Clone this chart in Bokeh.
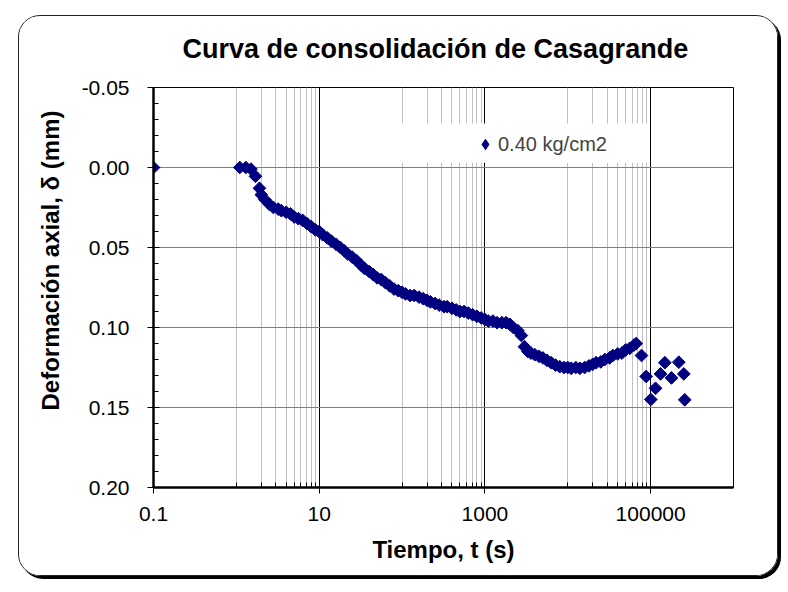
from bokeh.plotting import figure
from bokeh.models import (Range1d, FixedTicker, NumeralTickFormatter, CustomJSTickFormatter,
                          Legend, LegendItem, BoxAnnotation, ColumnDataSource, Title)
from bokeh.embed import file_html
from bokeh.resources import INLINE

# ---------------- data ----------------
title_text = "Curva de consolidación de Casagrande"
x_label = "Tiempo, t (s)"
y_label = "Deformación axial, δ (mm)"
series_name = "0.40 kg/cm2"

time_s = [0.1, 1.1, 1.3, 1.5, 1.7, 1.9, 2.0, 2.2, 2.5, 2.8, 3.2, 3.5, 4.0, 4.5, 5.0, 5.6, 6.3, 7.1, 8.0, 9.0,
          10, 11, 12.5, 14, 16, 18, 20, 22, 25, 28, 32, 35, 40, 45, 50, 56, 63, 71, 80, 90,
          100, 110, 125, 140, 160, 180, 200, 220, 250, 280, 320, 350, 400, 450, 500, 560, 630, 710, 800, 900,
          1000, 1100, 1250, 1400, 1600, 1800, 2000, 2200, 2500, 2750, 3000, 3300, 3600, 4000, 4500, 5000,
          5600, 6300, 7100, 8000, 9000,
          10000, 11000, 12500, 14000, 16000, 18000, 20000, 22000, 25000, 28000, 32000, 35000, 40000, 45000,
          50000, 56000, 63000, 67000,
          77600, 88300, 100500, 114600, 131600, 148300, 178500, 218800, 251400, 258000]

deformation_mm = [0.000, 0.000, 0.000, 0.001, 0.0055, 0.013, 0.017, 0.020, 0.023, 0.025, 0.026, 0.027, 0.028,
                  0.029, 0.031, 0.032, 0.033, 0.035, 0.037, 0.039,
                  0.040, 0.042, 0.044, 0.046, 0.048, 0.050, 0.052, 0.054, 0.056, 0.058, 0.061, 0.063, 0.065,
                  0.067, 0.069, 0.070, 0.072, 0.074, 0.076, 0.077,
                  0.078, 0.079, 0.080, 0.080, 0.081, 0.082, 0.083, 0.084, 0.085, 0.086, 0.087, 0.087, 0.088,
                  0.089, 0.090, 0.090, 0.091, 0.092, 0.093, 0.094,
                  0.095, 0.096, 0.096, 0.097, 0.097, 0.097, 0.098, 0.100, 0.102, 0.105, 0.112, 0.115, 0.116,
                  0.117, 0.118, 0.119, 0.1205, 0.122, 0.1235, 0.1245, 0.125,
                  0.125, 0.1255, 0.125, 0.1255, 0.125, 0.124, 0.123, 0.122, 0.1215, 0.120, 0.119, 0.1175,
                  0.1165, 0.116, 0.114, 0.113, 0.111, 0.110,
                  0.1175, 0.1306, 0.145, 0.138, 0.129, 0.122, 0.1315, 0.1217, 0.129, 0.1452]

x_major_ticks = [0.1, 10, 1000, 100000]
x_minor_ticks = [1, 2, 3, 4, 5, 6, 7, 8, 9,
                 100, 200, 300, 400, 500, 600, 700, 800, 900,
                 10000, 20000, 30000, 40000, 50000, 60000, 70000, 80000, 90000]
y_major_ticks = [-0.05, 0.0, 0.05, 0.10, 0.15, 0.20]
y_minor_ticks = [-0.04, -0.03, -0.02, -0.01, 0.01, 0.02, 0.03, 0.04, 0.06, 0.07, 0.08, 0.09,
                 0.11, 0.12, 0.13, 0.14, 0.16, 0.17, 0.18, 0.19]

FONT = "Liberation Sans"
NAVY = "#000080"

src = ColumnDataSource(data=dict(t=time_s, d=deformation_mm))

p = figure(width=760, height=561, x_axis_type="log",
           x_range=Range1d(0.1, 1e6), y_range=Range1d(0.20, -0.05),
           output_backend="svg", toolbar_location=None,
           min_border_left=134, min_border_right=46, min_border_top=71, min_border_bottom=90,
           background_fill_color="white", border_fill_color="white")

p.styles = {"margin-left": "18px", "margin-top": "15px",
            "border": "1px solid #222", "border-radius": "22px",
            "box-shadow": "3px 3px 0px #000", "overflow": "hidden"}

# spacer between the frame and the chart title
p.add_layout(Title(text=" ", text_font_size="1px", standoff=21), "above")

p.title.text = title_text
p.title.align = "left"
p.title.offset = 29
p.title.text_font = FONT
p.title.text_font_size = "27px"
p.title.text_font_style = "bold"
p.title.text_color = "black"
p.title.standoff = 0

# legend background (white band hiding grid)
p.add_layout(BoxAnnotation(left=92, right=97000, top=-0.0275, bottom=-0.003,
                           fill_color="white", fill_alpha=1.0, line_color=None, level="underlay"))

r = p.scatter("t", "d", source=src, marker="square", size=9, angle=45, angle_units="deg",
              fill_color=NAVY, line_color=NAVY)

# same series drawn as a diamond symbol, used only for the legend key (not shown in the plot)
r_key = p.scatter("t", "d", source=src, marker="diamond", size=12,
                  fill_color=NAVY, line_color=NAVY, visible=False)

# axes
xa = p.xaxis[0]
xa.ticker = FixedTicker(ticks=x_major_ticks, minor_ticks=x_minor_ticks)
xa.formatter = CustomJSTickFormatter(code="return tick.toString();")
ya = p.yaxis[0]
ya.ticker = FixedTicker(ticks=y_major_ticks, minor_ticks=y_minor_ticks)
ya.formatter = NumeralTickFormatter(format="0.00")

for ax in (xa, ya):
    ax.axis_line_color = "black"
    ax.axis_line_width = 2.5
    ax.major_tick_line_color = "black"
    ax.minor_tick_line_color = "black"
    ax.major_tick_line_width = 1
    ax.minor_tick_line_width = 1
    ax.major_tick_in = 6
    ax.major_tick_out = 6
    ax.minor_tick_in = 5
    ax.minor_tick_out = 0
    ax.major_label_text_font = FONT
    ax.major_label_text_font_size = "21px"
    ax.major_label_text_color = "black"
    ax.axis_label_text_font = FONT
    ax.axis_label_text_font_size = "24px"
    ax.axis_label_text_font_style = "bold"
    ax.axis_label_text_color = "black"

xa.axis_label = x_label
xa.major_label_standoff = 13
xa.axis_label_standoff = 12
ya.major_label_standoff = 18

# y-axis title (placed along the axis as in the original)
p.add_layout(Title(text=y_label, align="left", offset=77, standoff=30,
                   text_font=FONT, text_font_size="24px", text_font_style="bold",
                   text_color="black"), "left")

# grids
p.xgrid.grid_line_color = "black"
p.xgrid.grid_line_width = 1
p.xgrid.minor_grid_line_color = "#c0c0c0"
p.xgrid.minor_grid_line_width = 1
p.ygrid.grid_line_color = "#808080"
p.ygrid.grid_line_width = 1.2

p.outline_line_color = "black"
p.outline_line_width = 1

legend = Legend(items=[LegendItem(label=series_name, renderers=[r_key])],
                location=(319, 330), padding=0, spacing=0, margin=0,
                label_text_font=FONT, label_text_font_size="20px", label_standoff=0,
                glyph_width=26, glyph_height=26, inactive_fill_alpha=0,
                background_fill_alpha=0, border_line_color=None)
p.add_layout(legend)

open("out.html", "w").write(file_html(p, INLINE))
